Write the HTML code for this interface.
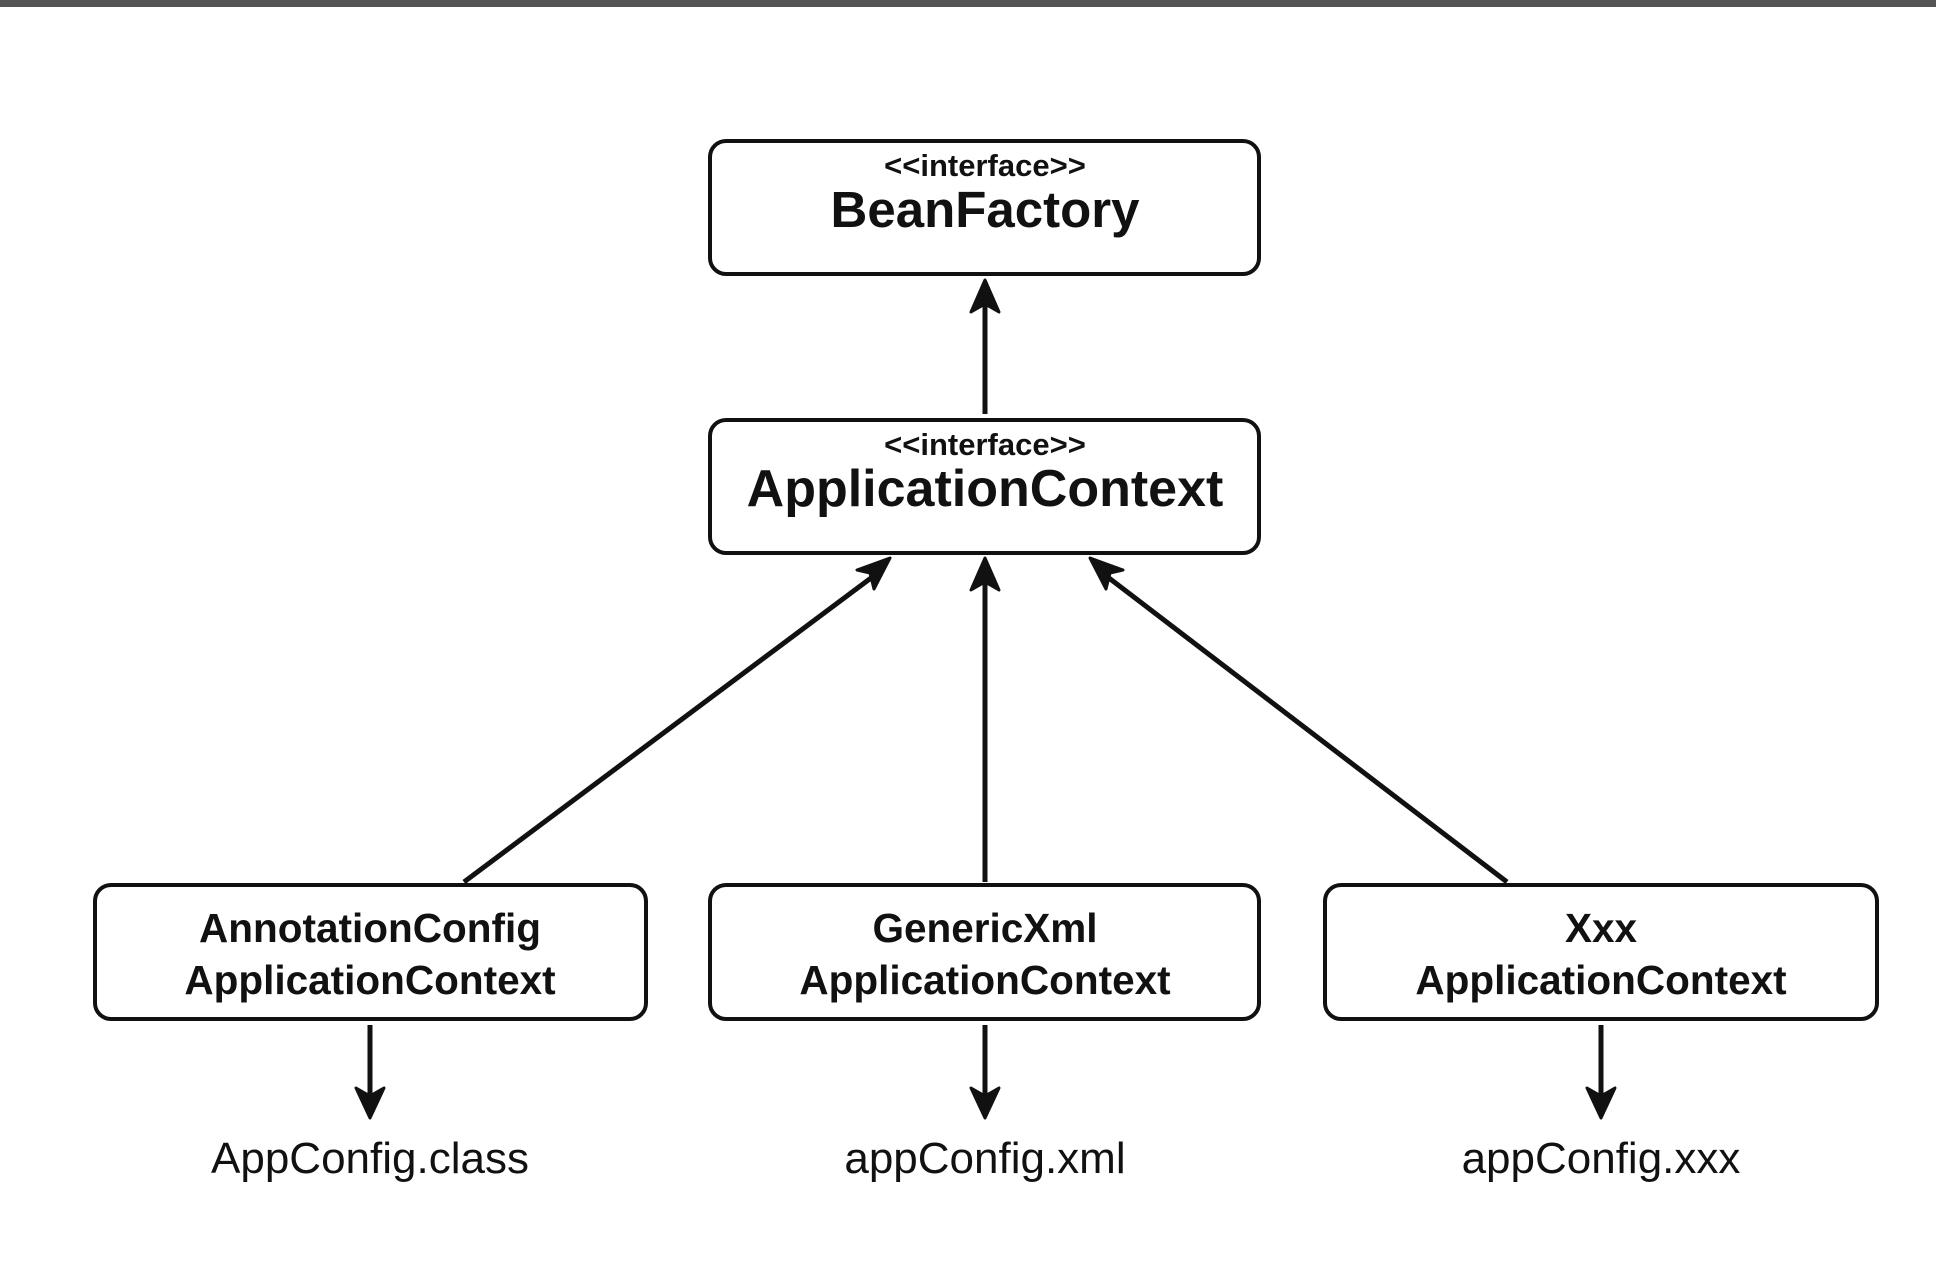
<!DOCTYPE html>
<html><head><meta charset="utf-8"><style>
body{margin:0;background:#fff;}
svg{display:block}
text{font-family:"Liberation Sans",sans-serif;fill:#111;text-anchor:middle}
</style></head><body>
<svg width="1936" height="1268" viewBox="0 0 1936 1268">
<rect x="0" y="0" width="1936" height="7" fill="#555"/>
<g fill="#fff" stroke="#111" stroke-width="4">
<rect x="710" y="141" width="549" height="133" rx="16"/>
<rect x="710" y="420" width="549" height="133" rx="16"/>
<rect x="95" y="885" width="551" height="134" rx="16"/>
<rect x="710" y="885" width="549" height="134" rx="16"/>
<rect x="1325" y="885" width="552" height="134" rx="16"/>
</g>
<g stroke="#111" stroke-width="5" fill="none">
<line x1="985" y1="414" x2="985" y2="300"/>
<line x1="464" y1="882" x2="875" y2="575"/>
<line x1="985" y1="882" x2="985" y2="580"/>
<line x1="1507" y1="882" x2="1105" y2="575"/>
<line x1="370" y1="1025" x2="370" y2="1100"/>
<line x1="985" y1="1025" x2="985" y2="1100"/>
<line x1="1601" y1="1025" x2="1601" y2="1100"/>
</g>
<g fill="#111" stroke="#111" stroke-width="3" stroke-linejoin="round">
<polygon points="985,280 971,312 985,304 999,312"/>
<polygon points="985,558 971,590 985,582 999,590"/>
<polygon points="890,558 857,570 870,573 874,589"/>
<polygon points="1090,558 1106,589 1110,573 1123,570"/>
<polygon points="370,1118 356,1088 370,1096 384,1088"/>
<polygon points="985,1118 971,1088 985,1096 999,1088"/>
<polygon points="1601,1118 1587,1088 1601,1096 1615,1088"/>
</g>
<text x="985" y="176" font-size="31" font-weight="bold">&lt;&lt;interface&gt;&gt;</text>
<text x="985" y="227" font-size="51" font-weight="bold">BeanFactory</text>
<text x="985" y="455" font-size="31" font-weight="bold">&lt;&lt;interface&gt;&gt;</text>
<text x="985" y="506" font-size="52" font-weight="bold">ApplicationContext</text>
<g font-size="40.5" font-weight="bold">
<text x="370" y="942">AnnotationConfig</text>
<text x="370" y="994">ApplicationContext</text>
<text x="985" y="942">GenericXml</text>
<text x="985" y="994">ApplicationContext</text>
<text x="1601" y="942">Xxx</text>
<text x="1601" y="994">ApplicationContext</text>
</g>
<g font-size="44">
<text x="370" y="1173">AppConfig.class</text>
<text x="985" y="1173">appConfig.xml</text>
<text x="1601" y="1173">appConfig.xxx</text>
</g>
</svg>
</body></html>
